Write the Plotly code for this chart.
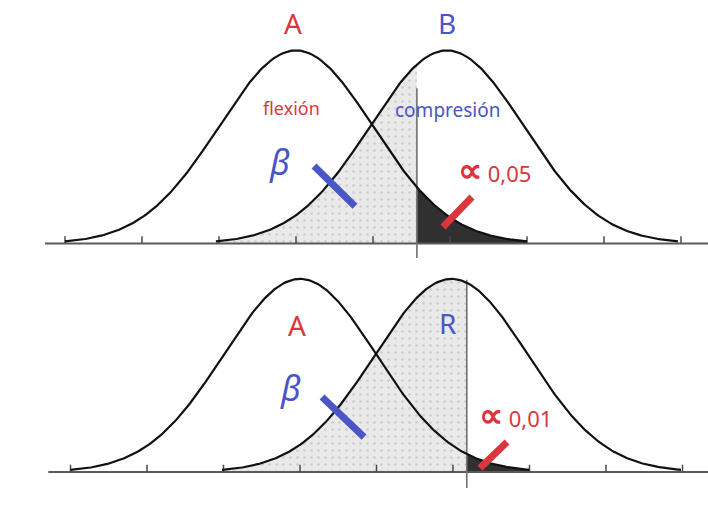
import numpy as np
import plotly.graph_objects as go

# ---- data (in units of standard deviation, relative to mean of A) ----
panels = ["top", "bottom"]
mean_A = [0.0, 0.0]
mean_B = [1.96, 1.98]
sigma = [1.0, 1.0]
critical = [1.57, 2.18]          # position of the decision line
alpha_labels = ["0,05", "0,01"]
label_A = ["A", "A"]
label_B = ["B", "R"]
tick_positions = [-3, -2, -1, 0, 1, 2, 3, 4, 5]

RED = "#d9363e"
BLUE = "#4a55c6"
FONT = "Noto Sans"

def pdf(x, m, s):
    return np.exp(-0.5 * ((x - m) / s) ** 2) / (s * np.sqrt(2 * np.pi))

fig = go.Figure()

# axis geometry per panel
xranges = [[-296 / 77, (708 - 296) / 77], [-300 / 76.5, (708 - 300) / 76.5]]
yranges = [[(243.5 - 258) / 484, 243.5 / 484], [(472 - 516) / 484, (472 - 258) / 484]]
ydomains = [[0.5, 1.0], [0.0, 0.5]]
vline_y = [[-0.038, 0.321], [-0.033, 0.397]]
base_x = [[-3.26, 5.4], [-3.29, 5.4]]

for i in range(2):
    xa = "x" if i == 0 else "x2"
    ya = "y" if i == 0 else "y2"
    mA, mB, s, c = mean_A[i], mean_B[i], sigma[i], critical[i]

    # beta area (under B, left of decision line)
    xb = np.linspace(mB - 3 * s, c, 200)
    yb = pdf(xb, mB, s)
    fig.add_trace(go.Scatter(
        x=np.concatenate([xb, [c, mB - 3 * s]]),
        y=np.concatenate([yb, [0, 0]]),
        fill="toself", mode="none", fillcolor="#e8e8e8",
        fillpattern=dict(shape=".", bgcolor="#e9e9e9", fgcolor="#b0b0b0",
                         size=7, solidity=0.12),
        xaxis=xa, yaxis=ya, hoverinfo="skip", showlegend=False))

    # alpha area (under A, right of decision line)
    xa_ = np.linspace(c, mA + 3 * s, 200)
    ya_ = pdf(xa_, mA, s)
    fig.add_trace(go.Scatter(
        x=np.concatenate([xa_, [mA + 3 * s, c]]),
        y=np.concatenate([ya_, [0, 0]]),
        fill="toself", mode="none", fillcolor="#303030",
        xaxis=xa, yaxis=ya, hoverinfo="skip", showlegend=False))

    # baseline
    fig.add_trace(go.Scatter(x=base_x[i], y=[0, 0], mode="lines",
                             line=dict(color="#5a5a5a", width=2),
                             xaxis=xa, yaxis=ya, hoverinfo="skip", showlegend=False))
    # ticks
    tx, ty = [], []
    for t in tick_positions:
        tx += [t, t, None]
        ty += [0, 0.015, None]
    fig.add_trace(go.Scatter(x=tx, y=ty, mode="lines",
                             line=dict(color="#4a4a4a", width=1.5),
                             xaxis=xa, yaxis=ya, hoverinfo="skip", showlegend=False))

    # decision line
    fig.add_trace(go.Scatter(x=[c, c], y=vline_y[i], mode="lines",
                             line=dict(color="#707070", width=1.6),
                             xaxis=xa, yaxis=ya, hoverinfo="skip", showlegend=False))

    # curves
    for m in (mA, mB):
        xc = np.linspace(m - 3 * s, m + 3 * s, 300)
        fig.add_trace(go.Scatter(x=xc, y=pdf(xc, m, s), mode="lines",
                                 line=dict(color="#111111", width=2.2),
                                 xaxis=xa, yaxis=ya, hoverinfo="skip", showlegend=False))

# ---- annotations ----
ann = []
def txt(x, y, text, size, color, xref, yref, **kw):
    ann.append(dict(x=x, y=y, xref=xref, yref=yref, text=text, showarrow=False,
                    font=dict(family=FONT, size=size, color=color), **kw))

ALPHA = "<b><span style='font-size:34px'>∝</span></b> "

# top panel
txt(-0.04, 0.456, label_A[0], 28, RED, "x", "y")
txt(1.96, 0.456, label_B[0], 28, BLUE, "x", "y")
txt(-0.065, 0.279, "flexión", 18, RED, "x", "y")
txt(1.97, 0.276, "compresión", 19, BLUE, "x", "y")
txt(-0.22, 0.168, "<i>β</i>", 34, BLUE, "x", "y")
txt(2.58, 0.153, ALPHA + alpha_labels[0], 22, RED, "x", "y")
# bottom panel
txt(-0.04, 0.304, label_A[1], 28, RED, "x2", "y2")
txt(1.93, 0.308, label_B[1], 28, BLUE, "x2", "y2")
txt(-0.13, 0.174, "<i>β</i>", 34, BLUE, "x2", "y2")
txt(2.82, 0.120, ALPHA + alpha_labels[1], 22, RED, "x2", "y2")

# pointer strokes
shapes = []
def stroke(x0, y0, x1, y1, color, xref, yref):
    shapes.append(dict(type="line", x0=x0, y0=y0, x1=x1, y1=y1, xref=xref, yref=yref,
                       line=dict(color=color, width=7)))
stroke(0.234, 0.160, 0.766, 0.077, BLUE, "x", "y")
stroke(1.909, 0.034, 2.286, 0.096, RED, "x", "y")
stroke(0.288, 0.155, 0.837, 0.072, BLUE, "x2", "y2")
stroke(2.353, 0.008, 2.706, 0.062, RED, "x2", "y2")

axis_common = dict(visible=False, showgrid=False, zeroline=False, fixedrange=True)
fig.update_layout(
    width=708, height=516,
    margin=dict(l=0, r=0, t=0, b=0),
    paper_bgcolor="white", plot_bgcolor="white",
    showlegend=False, hovermode=False,
    annotations=ann, shapes=shapes,
    xaxis=dict(range=xranges[0], domain=[0, 1], anchor="y", **axis_common),
    yaxis=dict(range=yranges[0], domain=ydomains[0], anchor="x", **axis_common),
    xaxis2=dict(range=xranges[1], domain=[0, 1], anchor="y2", **axis_common),
    yaxis2=dict(range=yranges[1], domain=ydomains[1], anchor="x2", **axis_common),
)

fig.write_html("out.html",
               config={"displayModeBar": False, "staticPlot": True},
               post_script="document.body.style.margin='0px';document.body.style.overflow='hidden';")
